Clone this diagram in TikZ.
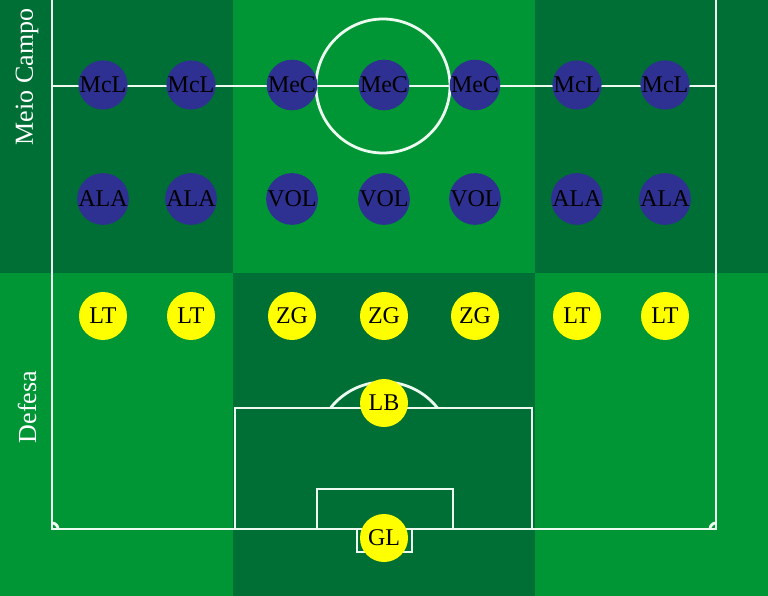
\documentclass[tikz,border=0pt]{standalone}
\usepackage{fontspec}
\setmainfont{Liberation Serif}
\definecolor{darkg}{RGB}{0,111,53}
\definecolor{lightg}{RGB}{0,150,53}
\definecolor{fieldline}{RGB}{236,250,239}
\definecolor{mid}{RGB}{46,49,146}
\definecolor{defy}{RGB}{255,255,0}
\tikzset{
  player/.style={circle,minimum size=48pt,inner sep=0pt,text=black,font=\fontsize{24}{27}\selectfont},
  midp/.style={player,fill=mid},
  defp/.style={player,fill=defy},
  fline/.style={draw=fieldline,line width=2.8pt},
  zonelabel/.style={rotate=90,text=white,font=\fontsize{26}{30}\selectfont}
}
\begin{document}
\begin{tikzpicture}[x=1pt,y=-1pt]
\useasboundingbox (0,0) rectangle (768,596);
% stripes
\fill[darkg] (0,0) rectangle (233,273);
\fill[lightg] (233,0) rectangle (535,273);
\fill[darkg] (535,0) rectangle (768,273);
\fill[lightg] (0,273) rectangle (233,596);
\fill[darkg] (233,273) rectangle (535,596);
\fill[lightg] (535,273) rectangle (768,596);
% field lines
\draw[fline] (52,0) -- (52,529) -- (716,529) -- (716,0);
\draw[fline] (52,86) -- (716,86);
\draw[fline] (383,86) circle[radius=67];
\draw[fline] (235,529) -- (235,408) -- (532,408) -- (532,529);
\draw[fline] (317,529) -- (317,489) -- (453,489) -- (453,529);
\draw[fline] (357,529) -- (357,552) -- (412,552) -- (412,529);
\begin{scope}
\clip (235,0) rectangle (532,408);
\draw[fline] (384,450) circle[radius=68];
\end{scope}
\draw[fline] (58,529) arc[start angle=0,end angle=-90,radius=6];
\draw[fline] (710,529) arc[start angle=180,end angle=270,radius=6];
% zone labels
\node[zonelabel] (lmeio) at (27,77) {Meio Campo};
\node[zonelabel] (ldef) at (27,407) {Defesa};
% midfield
\node[midp] (m1) at (103,85) {McL};
\node[midp] (m2) at (191,85) {McL};
\node[midp] (m3) at (292,85) {MeC};
\node[midp] (m4) at (384,85) {MeC};
\node[midp] (m5) at (475,85) {MeC};
\node[midp] (m6) at (577,85) {McL};
\node[midp] (m7) at (665,85) {McL};
\node[midp] (v1) at (103,199) {ALA};
\node[midp] (v2) at (191,199) {ALA};
\node[midp] (v3) at (292,199) {VOL};
\node[midp] (v4) at (384,199) {VOL};
\node[midp] (v5) at (475,199) {VOL};
\node[midp] (v6) at (577,199) {ALA};
\node[midp] (v7) at (665,199) {ALA};
% defence
\node[defp] (d1) at (103,316) {LT};
\node[defp] (d2) at (191,316) {LT};
\node[defp] (d3) at (292,316) {ZG};
\node[defp] (d4) at (384,316) {ZG};
\node[defp] (d5) at (475,316) {ZG};
\node[defp] (d6) at (577,316) {LT};
\node[defp] (d7) at (665,316) {LT};
\node[defp] (lb) at (384,403) {LB};
\node[defp] (gl) at (384,538) {GL};
\end{tikzpicture}
\end{document}
